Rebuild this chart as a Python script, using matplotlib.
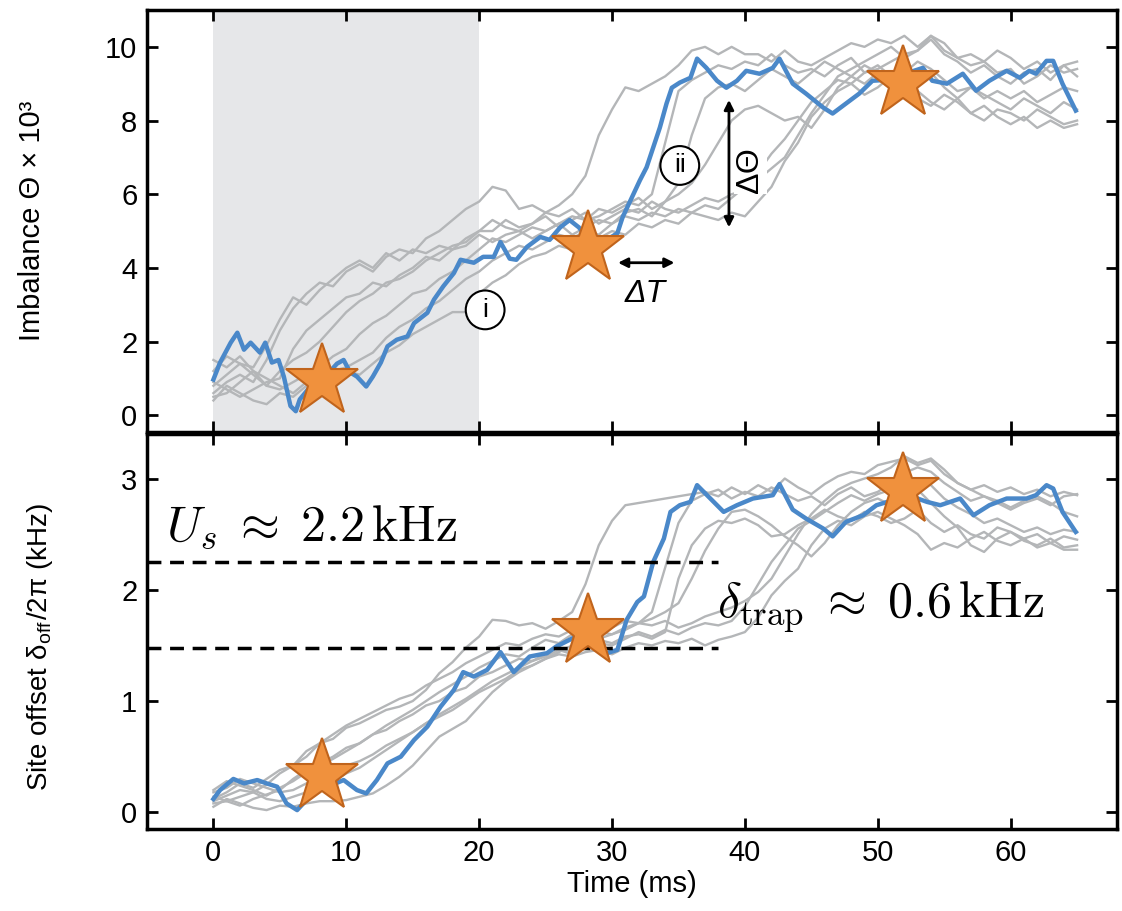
"""
Imbalance and site offset traces vs time: seven grey runs,
one highlighted run in blue, and three marked times (stars).
"""

import numpy as np
import matplotlib.pyplot as plt

plt.rcParams['font.family'] = ['Liberation Sans', 'DejaVu Sans']
plt.rcParams['mathtext.fontset'] = 'cm'

# grey traces are read every 1 ms from t = 0 to 65 ms
GRAY_T = list(range(0, 66))

# imbalance Theta x 1e3, top panel
GRAY_TOP = [
    [0.6, 0.9, 1.1, 0.9, 1.5, 2.3, 2.9, 3.3, 3.6, 3.5,
     3.9, 4.1, 3.9, 4.3, 4.5, 4.4, 4.8, 5.0, 5.3, 5.6,
     5.8, 6.2, 6.1, 5.6, 5.7, 5.5, 5.7, 6.0, 6.5, 7.6,
     8.3, 8.9, 8.8, 9.0, 9.2, 9.5, 9.9, 10.0, 9.8, 10.0,
     9.8, 9.8, 9.6, 9.9, 9.6, 9.5, 9.7, 9.9, 10.1, 10.0,
     10.2, 10.1, 10.3, 10.0, 10.3, 9.9, 9.7, 9.5, 9.6, 9.3,
     9.4, 9.0, 9.2, 9.5, 9.3, 9.4],
    [1.2, 1.6, 1.4, 1.1, 0.8, 1.2, 1.5, 1.7, 2.0, 2.4,
     2.8, 3.1, 3.3, 3.6, 3.7, 3.9, 4.2, 4.4, 4.6, 4.7,
     5.0, 5.0, 5.3, 5.1, 5.2, 5.5, 5.4, 5.6, 5.3, 5.4,
     5.6, 5.8, 5.7, 6.0, 7.4, 8.8, 9.1, 9.3, 9.5, 9.4,
     9.6, 9.5, 9.8, 9.5, 9.3, 9.4, 9.2, 9.5, 9.7, 9.3,
     9.4, 9.6, 9.8, 9.9, 10.2, 9.8, 9.6, 9.3, 9.5, 9.2,
     9.0, 9.3, 9.4, 9.1, 9.5, 9.6],
    [0.9, 0.7, 0.5, 0.7, 0.9, 1.0, 1.8, 2.3, 2.6, 2.9,
     3.2, 3.3, 3.6, 3.5, 3.8, 4.0, 4.3, 4.2, 4.5, 4.6,
     4.9, 4.7, 4.9, 5.0, 4.8, 5.0, 5.2, 4.9, 5.1, 5.3,
     5.2, 5.5, 5.6, 5.4, 5.8, 6.3, 7.6, 8.6, 8.9, 9.0,
     8.8, 9.1, 9.4, 9.2, 9.0, 9.3, 9.6, 9.4, 9.2, 9.5,
     9.3, 9.0, 9.3, 9.6, 9.4, 9.1, 8.8, 8.9, 8.6, 8.8,
     8.6, 8.8, 8.5, 8.7, 8.9, 8.8],
    [0.5, 0.6, 0.9, 1.2, 0.8, 0.7, 0.9, 1.1, 1.3, 1.6,
     1.8, 2.2, 2.5, 2.7, 3.0, 3.3, 3.4, 3.7, 3.9, 4.2,
     4.5, 4.8, 4.7, 4.9, 5.1, 5.0, 5.2, 5.4, 5.3, 5.6,
     5.5, 5.7, 5.9, 5.6, 5.8, 6.0, 6.3, 6.8, 7.4, 8.0,
     8.3, 8.4, 8.2, 8.0, 8.1, 7.8, 8.3, 8.9, 9.2, 9.0,
     9.3, 9.0, 9.1, 8.8, 8.5, 8.3, 8.6, 8.2, 8.0, 8.3,
     8.2, 8.0, 8.3, 8.1, 7.9, 8.0],
    [0.4, 0.8, 0.6, 0.4, 0.3, 0.6, 0.5, 0.8, 1.0, 1.2,
     1.3, 1.5, 1.7, 2.1, 2.4, 2.6, 2.9, 3.1, 3.4, 3.7,
     3.9, 4.2, 4.4, 4.6, 4.5, 4.7, 4.9, 4.8, 5.0, 4.9,
     5.2, 5.4, 5.3, 5.5, 5.4, 5.6, 5.5, 5.7, 5.6, 5.9,
     6.2, 6.6, 7.1, 7.5, 8.0, 8.5, 8.8, 9.1, 9.0, 9.3,
     9.5, 9.2, 9.4, 9.1, 9.3, 8.9, 8.6, 8.9, 8.7, 8.5,
     8.3, 8.6, 8.4, 8.2, 8.5, 8.3],
    [1.5, 1.3, 1.6, 1.2, 1.0, 0.8, 0.6, 0.9, 1.1, 1.0,
     1.2, 1.1, 1.4, 1.7, 1.9, 2.2, 2.4, 2.6, 2.8, 2.8,
     3.3, 3.6, 3.8, 4.1, 4.3, 4.4, 4.6, 4.5, 4.7, 4.8,
     5.0, 4.9, 5.2, 5.1, 5.3, 5.2, 5.5, 5.4, 5.3, 5.5,
     5.4, 5.8, 6.2, 6.9, 7.4, 8.1, 8.5, 8.8, 9.0, 8.7,
     8.9, 9.2, 8.8, 8.6, 8.4, 8.7, 8.5, 8.2, 8.4, 8.1,
     7.9, 8.1, 7.8, 8.0, 7.8, 7.9],
    [0.8, 1.1, 1.4, 1.3, 1.9, 2.6, 3.2, 3.0, 3.4, 3.7,
     4.0, 4.2, 4.0, 4.4, 4.2, 4.5, 4.4, 4.6, 4.5, 4.8,
     5.0, 5.3, 5.1, 5.0, 5.2, 5.4, 5.1, 5.3, 5.5, 5.2,
     5.4, 5.6, 5.5, 5.8, 5.6, 5.5, 5.7, 5.9, 5.8, 6.0,
     6.1, 6.4, 6.7, 7.0, 7.6, 8.2, 8.7, 9.2, 9.4, 9.6,
     9.8, 10.0, 9.7, 9.9, 10.3, 10.1, 9.7, 9.8, 9.6, 9.9,
     9.7, 9.4, 9.6, 9.3, 9.5, 9.2],
]

# site offset in kHz, bottom panel
GRAY_BOT = [
    [0.10, 0.15, 0.20, 0.18, 0.25, 0.35, 0.42, 0.50, 0.62, 0.66,
     0.76, 0.80, 0.86, 0.92, 0.95, 1.00, 1.10, 1.25, 1.35, 1.48,
     1.58, 1.73, 1.72, 1.68, 1.70, 1.65, 1.72, 1.80, 2.05, 2.40,
     2.62, 2.76, 2.78, 2.80, 2.82, 2.84, 2.86, 2.88, 2.84, 2.92,
     2.86, 2.94, 2.88, 3.00, 2.92, 2.86, 2.95, 3.02, 3.06, 3.04,
     3.12, 3.15, 3.18, 3.12, 3.16, 3.04, 2.96, 2.90, 2.94, 2.88,
     2.92, 2.86, 2.90, 2.84, 2.88, 2.85],
    [0.20, 0.28, 0.24, 0.20, 0.15, 0.22, 0.28, 0.36, 0.42, 0.48,
     0.55, 0.62, 0.70, 0.78, 0.85, 0.92, 1.00, 1.08, 1.15, 1.22,
     1.30, 1.36, 1.42, 1.40, 1.48, 1.55, 1.52, 1.60, 1.56, 1.62,
     1.66, 1.72, 1.70, 1.80, 2.20, 2.60, 2.80, 2.86, 2.90, 2.82,
     2.88, 2.84, 2.92, 2.86, 2.80, 2.84, 2.76, 2.86, 2.92, 2.84,
     2.88, 2.96, 3.05, 3.10, 3.06, 2.96, 2.88, 2.80, 2.84, 2.78,
     2.72, 2.78, 2.82, 2.76, 2.84, 2.86],
    [0.14, 0.10, 0.06, 0.12, 0.16, 0.20, 0.30, 0.38, 0.44, 0.50,
     0.58, 0.62, 0.70, 0.74, 0.82, 0.88, 0.96, 1.00, 1.08, 1.12,
     1.22, 1.26, 1.32, 1.38, 1.36, 1.42, 1.48, 1.44, 1.50, 1.55,
     1.52, 1.58, 1.60, 1.56, 1.62, 2.10, 2.40, 2.55, 2.62, 2.60,
     2.64, 2.58, 2.48, 2.50, 2.58, 2.64, 2.72, 2.66, 2.62, 2.70,
     2.66, 2.60, 2.64, 2.72, 2.60, 2.52, 2.58, 2.50, 2.46, 2.56,
     2.52, 2.46, 2.50, 2.42, 2.48, 2.45],
    [0.08, 0.10, 0.14, 0.18, 0.12, 0.10, 0.14, 0.18, 0.22, 0.28,
     0.35, 0.40, 0.48, 0.56, 0.64, 0.72, 0.80, 0.88, 0.95, 1.02,
     1.10, 1.18, 1.24, 1.30, 1.36, 1.40, 1.46, 1.42, 1.48, 1.52,
     1.50, 1.56, 1.62, 1.58, 1.64, 1.60, 1.66, 1.70, 1.68, 1.72,
     1.85, 2.05, 2.25, 2.40, 2.55, 2.62, 2.70, 2.78, 2.85, 2.80,
     2.86, 2.90, 2.96, 3.00, 2.94, 2.82, 2.74, 2.68, 2.60, 2.64,
     2.58, 2.52, 2.56, 2.50, 2.54, 2.52],
    [0.05, 0.12, 0.08, 0.04, 0.02, 0.06, 0.05, 0.08, 0.10, 0.10,
     0.11, 0.14, 0.17, 0.24, 0.32, 0.42, 0.55, 0.68, 0.75, 0.82,
     0.95, 1.08, 1.18, 1.26, 1.32, 1.38, 1.42, 1.40, 1.44, 1.46,
     1.42, 1.48, 1.52, 1.50, 1.54, 1.52, 1.56, 1.50, 1.55, 1.58,
     1.62, 1.75, 1.95, 2.08, 2.19, 2.40, 2.55, 2.62, 2.58, 2.66,
     2.70, 2.64, 2.58, 2.50, 2.36, 2.42, 2.38, 2.46, 2.52, 2.44,
     2.40, 2.46, 2.38, 2.42, 2.36, 2.36],
    [0.18, 0.22, 0.30, 0.26, 0.22, 0.18, 0.20, 0.26, 0.32, 0.36,
     0.42, 0.46, 0.52, 0.60, 0.66, 0.72, 0.80, 0.86, 0.92, 1.00,
     1.08, 1.14, 1.20, 1.28, 1.32, 1.38, 1.44, 1.50, 1.48, 1.56,
     1.60, 1.64, 1.70, 1.74, 1.80, 1.88, 2.10, 2.35, 2.55, 2.70,
     2.72, 2.66, 2.58, 2.48, 2.40, 2.30, 2.42, 2.58, 2.70, 2.78,
     2.82, 2.76, 2.84, 2.90, 2.78, 2.66, 2.56, 2.40, 2.34, 2.46,
     2.52, 2.44, 2.40, 2.46, 2.38, 2.40],
    [0.12, 0.18, 0.26, 0.22, 0.30, 0.38, 0.42, 0.55, 0.62, 0.70,
     0.78, 0.84, 0.90, 0.96, 1.02, 1.06, 1.14, 1.20, 1.26, 1.34,
     1.40, 1.46, 1.52, 1.50, 1.56, 1.60, 1.58, 1.64, 1.66, 1.62,
     1.60, 1.66, 1.70, 1.68, 1.72, 1.66, 1.70, 1.76, 1.80, 1.84,
     1.90, 1.98, 2.10, 2.30, 2.50, 2.68, 2.80, 2.90, 2.96, 3.00,
     3.04, 3.10, 3.20, 3.14, 3.18, 3.08, 2.96, 2.90, 2.84, 2.80,
     2.74, 2.80, 2.84, 2.78, 2.70, 2.66],
]

# highlighted run, (time ms, value)
BLUE_TOP = [
    (0, 0.97), (0.5, 1.43), (1.3, 1.97), (1.8, 2.24), (2.3, 1.78), (2.8, 1.97),
    (3.5, 1.7), (3.9, 1.97), (4.4, 1.43), (4.9, 1.5), (5.3, 1.05), (5.8, 0.25),
    (6.2, 0.11), (6.5, 0.43), (7.3, 0.78), (8.0, 1.0), (8.8, 1.2), (9.3, 1.4),
    (9.8, 1.5), (10.3, 1.16), (10.8, 1.05), (11.5, 0.78), (12.0, 1.05), (12.6, 1.43),
    (13.1, 1.87), (13.8, 2.05), (14.6, 2.14), (15.1, 2.5), (16.1, 2.78), (16.6, 3.14),
    (17.3, 3.5), (18.1, 3.86), (18.6, 4.22), (19.6, 4.14), (20.3, 4.3), (21.1, 4.3),
    (21.6, 4.7), (22.3, 4.25), (22.8, 4.22), (23.6, 4.57), (24.6, 4.84), (25.3, 4.76),
    (26.1, 5.1), (26.8, 5.3), (27.5, 5.1), (28.2, 4.8), (28.9, 4.7), (29.6, 4.76),
    (30.4, 4.94), (30.8, 5.38), (31.4, 5.84), (32.1, 6.38), (32.6, 6.73), (33.1, 7.27),
    (33.6, 7.81), (34.1, 8.46), (34.5, 8.89), (35.1, 9.03), (35.9, 9.16), (36.4, 9.68),
    (37.1, 9.43), (37.9, 9.08), (38.6, 8.89), (39.4, 9.08), (40.1, 9.35), (41.1, 9.27),
    (42.1, 9.43), (42.6, 9.68), (43.6, 9.0), (44.6, 8.73), (45.9, 8.35), (46.6, 8.19),
    (47.6, 8.46), (48.6, 8.73), (49.6, 9.08), (50.5, 9.1), (51.4, 9.2), (52.3, 9.3),
    (53.4, 9.43), (54.1, 9.08), (55.2, 9.0), (56.4, 9.27), (57.4, 8.81), (58.4, 9.08),
    (59.7, 9.35), (60.7, 9.16), (61.4, 9.35), (61.9, 9.27), (62.7, 9.62), (63.2, 9.62),
    (63.9, 9.0), (64.9, 8.27),
]

BLUE_BOT = [
    (0, 0.12), (0.5, 0.2), (1.5, 0.3), (2.3, 0.26), (3.3, 0.29), (4.0, 0.26),
    (4.8, 0.23), (5.5, 0.08), (6.3, 0.02), (7.0, 0.11), (8.0, 0.2), (9.0, 0.25),
    (9.8, 0.29), (10.8, 0.2), (11.5, 0.17), (12.3, 0.29), (13.1, 0.44), (14.1, 0.5),
    (15.1, 0.65), (16.1, 0.77), (17.1, 0.95), (18.1, 1.1), (18.8, 1.26), (19.6, 1.22),
    (20.6, 1.28), (21.6, 1.44), (22.6, 1.26), (23.8, 1.4), (25.1, 1.43), (25.8, 1.49),
    (26.8, 1.55), (27.6, 1.6), (28.4, 1.58), (29.0, 1.5), (29.6, 1.43), (30.4, 1.46),
    (31.1, 1.73), (31.9, 1.89), (32.4, 1.94), (33.1, 2.25), (33.9, 2.46), (34.4, 2.7),
    (35.1, 2.76), (35.9, 2.79), (36.4, 2.94), (37.4, 2.82), (38.4, 2.7), (39.4, 2.76),
    (40.6, 2.82), (42.1, 2.85), (42.6, 2.95), (43.6, 2.72), (44.6, 2.64), (45.9, 2.55),
    (46.6, 2.48), (47.6, 2.61), (48.9, 2.67), (49.9, 2.76), (51.0, 2.8), (52.0, 2.85),
    (53.0, 2.82), (53.7, 2.79), (54.7, 2.76), (56.2, 2.82), (57.2, 2.67), (58.4, 2.76),
    (59.7, 2.82), (61.2, 2.82), (61.9, 2.85), (62.7, 2.94), (63.2, 2.91), (63.9, 2.7),
    (64.9, 2.52),
]

STAR_T = [8.2, 28.2, 51.9]
STAR_TOP = [0.92, 4.55, 9.03]
STAR_BOT = [0.33, 1.63, 2.9]

U_S = 2.25        # kHz, upper dashed line
U_LOW = 1.48      # kHz, lower dashed line
SHADE = (0, 20)   # ms

GRAY = '#b4b6b8'
BLUE = '#4a88c9'
STAR_FACE = '#f0913d'
STAR_EDGE = '#c0641c'

fig = plt.figure(figsize=(11.22, 9.11), dpi=100)
ax1 = fig.add_axes([0.131, 0.526, 0.8645, 0.463])
ax2 = fig.add_axes([0.131, 0.090, 0.8645, 0.4336])

for ax, grays, blue, stars in ((ax1, GRAY_TOP, BLUE_TOP, STAR_TOP),
                               (ax2, GRAY_BOT, BLUE_BOT, STAR_BOT)):
    for g in grays:
        ax.plot(GRAY_T, g, color=GRAY, lw=1.7, zorder=2)
    b = np.array(blue)
    ax.plot(b[:, 0], b[:, 1], color=BLUE, lw=3.2, zorder=3)
    ax.plot(STAR_T, stars, ls='none', marker='*', ms=55,
            mfc=STAR_FACE, mec=STAR_EDGE, mew=1.5, zorder=5)
    ax.set_xlim(-5, 68)
    ax.set_xticks(range(0, 61, 10))
    ax.tick_params(direction='in', length=8, width=2, labelsize=21,
                   top=True, right=True, pad=7)
    for s in ax.spines.values():
        s.set_linewidth(2.5)

# top panel
ax1.axvspan(*SHADE, color='#e6e7e9', zorder=0, lw=0)
ax1.set_ylim(-0.45, 11.0)
ax1.set_yticks(range(0, 11, 2))
ax1.tick_params(labelbottom=False)
ax1.set_ylabel('Imbalance Θ × 10³', fontsize=21)
ax1.yaxis.set_label_coords(-0.104, 0.5)

circ = dict(boxstyle='circle,pad=0.28', fc='white', ec='black', lw=1.5)
ax1.text(20.45, 2.86, 'i', fontsize=19, ha='center', va='center', bbox=circ, zorder=6)
ax1.text(35.1, 6.78, 'ii', fontsize=19, ha='center', va='center', bbox=circ, zorder=6)

ax1.annotate('', xy=(38.8, 8.56), xytext=(38.8, 5.1),
             arrowprops=dict(arrowstyle='<|-|>', lw=2, color='black',
                             shrinkA=0, shrinkB=0, mutation_scale=14), zorder=6)
ax1.text(40.4, 6.65, 'ΔΘ', rotation=90, fontsize=23, ha='center', va='center',
         bbox=dict(fc='white', ec='none', pad=1), zorder=6)
ax1.annotate('', xy=(34.7, 4.14), xytext=(30.45, 4.14),
             arrowprops=dict(arrowstyle='<|-|>', lw=2, color='black',
                             shrinkA=0, shrinkB=0, mutation_scale=14), zorder=6)
ax1.text(32.5, 3.3, 'ΔT', fontsize=23, style='italic', ha='center', va='center')

# bottom panel
ax2.set_ylim(-0.15, 3.4)
ax2.set_yticks(range(0, 4))
ax2.set_xlabel('Time (ms)', fontsize=21, labelpad=2)
ax2.set_ylabel(r'Site offset δ$_\mathregular{off}$/2π (kHz)', fontsize=20)
ax2.yaxis.set_label_coords(-0.095, 0.46)
for yv in (U_S, U_LOW):
    ax2.plot([-5, 38], [yv, yv], color='black', lw=2.5, ls=(0, (4, 2.5)), zorder=4)
ax2.text(-3.6, 2.44, r'$U_s\;\approx\;2.2\,\mathrm{kHz}$', fontsize=36,
         ha='left', va='baseline')
ax2.text(37.9, 1.75, r'$\delta_\mathrm{trap}\;\approx\;0.6\,\mathrm{kHz}$', fontsize=36,
         ha='left', va='baseline')

fig.savefig('out.png', dpi=100)
